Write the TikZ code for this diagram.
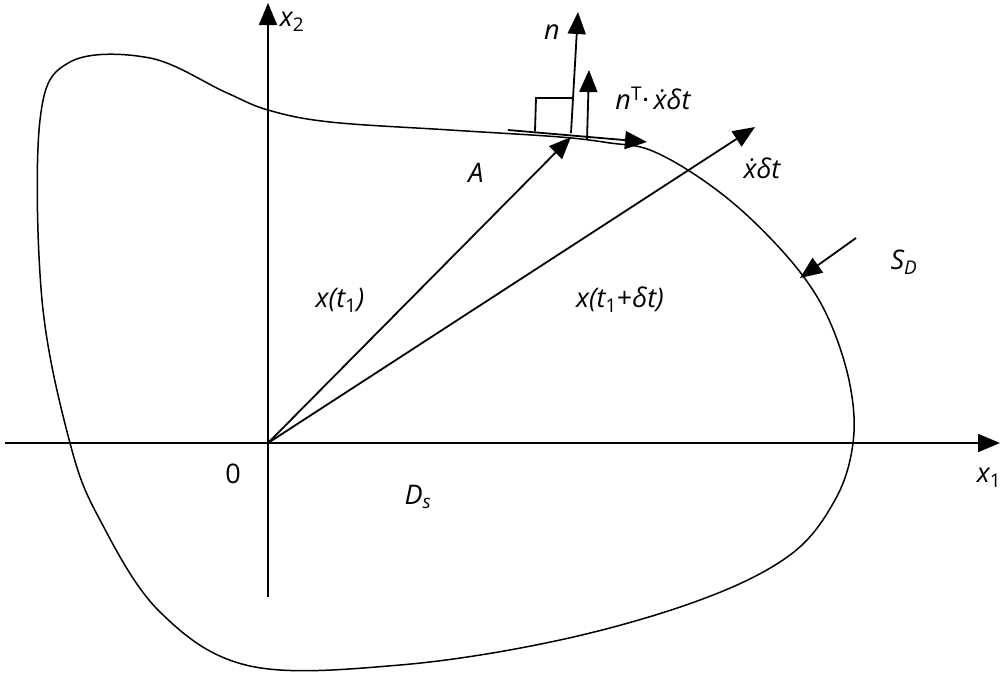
\documentclass[tikz,border=0pt]{standalone}
\usepackage{fontspec}
\setmainfont{Open Sans}
\usetikzlibrary{arrows.meta}
\newcommand{\xdot}{\.{x}}
\begin{document}
\begin{tikzpicture}[x=1pt,y=-1pt,line width=1.8pt,
  arr/.style={-{Triangle[length=22pt,width=18pt]}},
  lbl/.style={font=\fontsize{27}{30}\selectfont\itshape,inner sep=0pt}]
\useasboundingbox (0,0) rectangle (1002,675);
\coordinate (O) at (268,443);
\coordinate (L) at (5,443); \coordinate (R) at (1000,443);
\coordinate (B) at (268,597); \coordinate (T) at (268,3);
\draw[arr] (L) -- (R);
\draw[arr] (B) -- (T);
\draw[line width=1.5pt] plot[smooth cycle,tension=0.6] coordinates {
 (268,110) (330,122) (450,130) (560,137) (610,143) (650,150) (700,178)
 (750,218) (800,272) (830,322) (850,385) (853,443) (835,500) (790,555)
 (700,600) (560,640) (400,665) (250,666) (160,612) (100,520) (70,443)
 (42,300) (40,120) (70,62) (150,58) (225,92)};
\coordinate (P) at (571,137); \coordinate (Q) at (755,127);
\draw[arr] (O) -- (P);
\draw[arr] (O) -- (Q);
\coordinate (N0) at (571,133); \coordinate (N1) at (578,12);
\draw[arr] (N0) -- (N1);
\coordinate (M0) at (587,140); \coordinate (M1) at (589,70);
\draw[arr] (M0) -- (M1);
\coordinate (T0) at (508,130); \coordinate (T1) at (647,142);
\draw[arr] (T0) -- (T1);
\draw (535,131) -- (536,98) -- (572,98);
\coordinate (S0) at (856,238); \coordinate (S1) at (800,278);
\draw[arr] (S0) -- (S1);
\node[lbl] (lx2) at (292,22) {x\textsubscript{\upshape 2}};
\node[lbl] (lx1) at (989,478) {x\textsubscript{\upshape 1}};
\node[lbl,font=\fontsize{27}{30}\selectfont] (l0) at (233,474) {0};
\node[lbl] (lD) at (418,497) {D\textsubscript{s}};
\node[lbl] (lA) at (476,173) {A};
\node[lbl] (lxt) at (340,300) {x(t\textsubscript{\upshape 1})};
\node[lbl] (lxtd) at (620,300) {x(t\textsubscript{\upshape 1}{\upshape +}δt)};
\node[lbl] (ldx) at (762,168) {\xdot δt};
\node[lbl] (lS) at (904,262) {S\textsubscript{D}};
\node[lbl] (ln) at (552,32) {n};
\node[lbl] (lnt) at (653,98) {n\textsuperscript{\upshape T}{\upshape ·}\,\xdot δt};
\end{tikzpicture}
\end{document}
